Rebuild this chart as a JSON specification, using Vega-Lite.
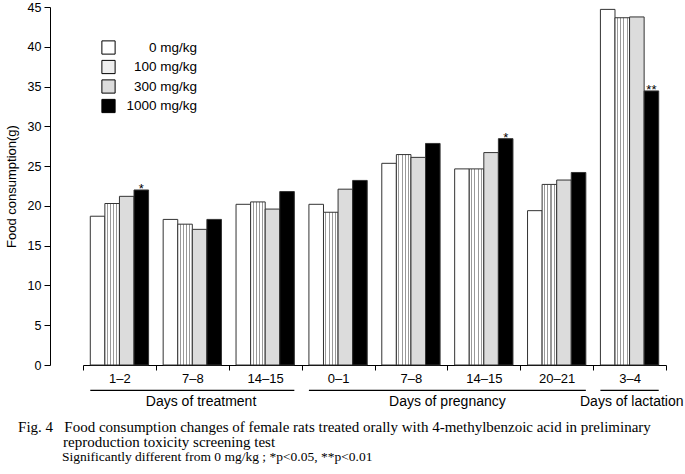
{
  "$schema": "https://vega.github.io/schema/vega-lite/v6.json",
  "width": 583,
  "height": 358,
  "autosize": {"type": "none"},
  "padding": {"left": 83, "top": 7, "right": 19, "bottom": 109},
  "background": "white",
  "config": {
    "view": {"stroke": null},
    "font": "Liberation Sans",
    "text": {"font": "Liberation Sans", "color": "black"},
    "axisY": {
      "grid": false,
      "offset": 33,
      "tickSize": 6,
      "labelPadding": 3,
      "labelFontSize": 12.5,
      "labelFont": "Liberation Sans",
      "labelColor": "black",
      "labelOverlap": false,
      "titleFont": "Liberation Sans",
      "titleFontSize": 13,
      "titleFontWeight": "normal",
      "titleColor": "black",
      "titlePadding": 9,
      "domainColor": "black",
      "tickColor": "black"
    }
  },
  "datasets": {
    "bars": [
      {"group": "treatment|1–2", "dose": "0 mg/kg", "value": 18.7, "sig": ""},
      {"group": "treatment|1–2", "dose": "100 mg/kg", "value": 20.3, "sig": ""},
      {"group": "treatment|1–2", "dose": "300 mg/kg", "value": 21.2, "sig": ""},
      {"group": "treatment|1–2", "dose": "1000 mg/kg", "value": 22.0, "sig": "*"},
      {"group": "treatment|7–8", "dose": "0 mg/kg", "value": 18.3, "sig": ""},
      {"group": "treatment|7–8", "dose": "100 mg/kg", "value": 17.7, "sig": ""},
      {"group": "treatment|7–8", "dose": "300 mg/kg", "value": 17.05, "sig": ""},
      {"group": "treatment|7–8", "dose": "1000 mg/kg", "value": 18.3, "sig": ""},
      {"group": "treatment|14–15", "dose": "0 mg/kg", "value": 20.2, "sig": ""},
      {"group": "treatment|14–15", "dose": "100 mg/kg", "value": 20.5, "sig": ""},
      {"group": "treatment|14–15", "dose": "300 mg/kg", "value": 19.6, "sig": ""},
      {"group": "treatment|14–15", "dose": "1000 mg/kg", "value": 21.8, "sig": ""},
      {"group": "pregnancy|0–1", "dose": "0 mg/kg", "value": 20.2, "sig": ""},
      {"group": "pregnancy|0–1", "dose": "100 mg/kg", "value": 19.2, "sig": ""},
      {"group": "pregnancy|0–1", "dose": "300 mg/kg", "value": 22.1, "sig": ""},
      {"group": "pregnancy|0–1", "dose": "1000 mg/kg", "value": 23.2, "sig": ""},
      {"group": "pregnancy|7–8", "dose": "0 mg/kg", "value": 25.35, "sig": ""},
      {"group": "pregnancy|7–8", "dose": "100 mg/kg", "value": 26.45, "sig": ""},
      {"group": "pregnancy|7–8", "dose": "300 mg/kg", "value": 26.1, "sig": ""},
      {"group": "pregnancy|7–8", "dose": "1000 mg/kg", "value": 27.85, "sig": ""},
      {"group": "pregnancy|14–15", "dose": "0 mg/kg", "value": 24.65, "sig": ""},
      {"group": "pregnancy|14–15", "dose": "100 mg/kg", "value": 24.65, "sig": ""},
      {"group": "pregnancy|14–15", "dose": "300 mg/kg", "value": 26.7, "sig": ""},
      {"group": "pregnancy|14–15", "dose": "1000 mg/kg", "value": 28.45, "sig": "*"},
      {"group": "pregnancy|20–21", "dose": "0 mg/kg", "value": 19.4, "sig": ""},
      {"group": "pregnancy|20–21", "dose": "100 mg/kg", "value": 22.7, "sig": ""},
      {"group": "pregnancy|20–21", "dose": "300 mg/kg", "value": 23.25, "sig": ""},
      {"group": "pregnancy|20–21", "dose": "1000 mg/kg", "value": 24.2, "sig": ""},
      {"group": "lactation|3–4", "dose": "0 mg/kg", "value": 44.7, "sig": ""},
      {"group": "lactation|3–4", "dose": "100 mg/kg", "value": 43.65, "sig": ""},
      {"group": "lactation|3–4", "dose": "300 mg/kg", "value": 43.75, "sig": ""},
      {"group": "lactation|3–4", "dose": "1000 mg/kg", "value": 34.45, "sig": "**"}
    ],
    "periods": [
      {"period": "Days of treatment", "first": "treatment|1–2", "last": "treatment|14–15", "anchor": "treatment|7–8"},
      {"period": "Days of pregnancy", "first": "pregnancy|0–1", "last": "pregnancy|20–21", "anchor": "pregnancy|14–15"},
      {"period": "Days of lactation", "first": "lactation|3–4", "last": "lactation|3–4", "anchor": "lactation|3–4"}
    ]
  },
  "title": {
    "text": [
      "Fig. 4\u00a0\u00a0\u00a0Food consumption changes of female rats treated orally with 4-methylbenzoic acid in preliminary",
      "\u200b\u00a0\u00a0\u00a0\u00a0\u00a0\u00a0\u00a0\u00a0\u00a0\u00a0\u00a0\u00a0reproduction toxicity screening test"
    ],
    "subtitle": "\u200b\u00a0\u00a0\u00a0\u00a0\u00a0\u00a0\u00a0\u00a0\u00a0\u00a0\u00a0\u00a0\u00a0Significantly different from 0 mg/kg ; *p<0.05, **p<0.01",
    "orient": "bottom",
    "anchor": "start",
    "font": "Liberation Serif",
    "fontSize": 15,
    "fontWeight": "normal",
    "lineHeight": 14.5,
    "color": "black",
    "subtitleFont": "Liberation Serif",
    "subtitleFontSize": 13.5,
    "subtitleColor": "black",
    "subtitlePadding": 0,
    "offset": 11,
    "dx": 13
  },
  "layer": [
    {
      "data": {"name": "bars"},
      "mark": {"type": "bar", "stroke": "#333333", "strokeWidth": 1},
      "encoding": {
        "x": {
          "field": "group",
          "type": "nominal",
          "title": null,
          "scale": {
            "domain": ["treatment|1–2", "treatment|7–8", "treatment|14–15", "pregnancy|0–1", "pregnancy|7–8", "pregnancy|14–15", "pregnancy|20–21", "lactation|3–4"],
            "paddingInner": 0,
            "paddingOuter": 0
          },
          "axis": {
            "title": null,
            "labelExpr": "split(datum.label, '|')[1]",
            "labelAngle": 0,
            "tickBand": "extent",
            "tickSize": 5,
            "labelPadding": 2,
            "labelFontSize": 13,
            "labelFont": "Liberation Sans",
            "labelColor": "black",
            "domainColor": "black",
            "tickColor": "black"
          }
        },
        "xOffset": {
          "field": "dose",
          "type": "nominal",
          "scale": {"domain": ["0 mg/kg", "100 mg/kg", "300 mg/kg", "1000 mg/kg"], "paddingInner": 0, "paddingOuter": 0.5}
        },
        "y": {
          "field": "value",
          "type": "quantitative",
          "title": "Food consumption(g)",
          "scale": {"domain": [0, 45], "nice": false},
          "axis": {"title": "Food consumption(g)", "values": [0, 5, 10, 15, 20, 25, 30, 35, 40, 45]}
        },
        "fill": {
          "condition": {
            "test": "datum.dose === '100 mg/kg'",
            "value": {"gradient": "linear", "x1": 0, "y1": 0, "x2": 1, "y2": 0, "stops": [
              {"offset": 0, "color": "#ffffff"}, {"offset": 0.135, "color": "#ffffff"},
              {"offset": 0.135, "color": "#999999"}, {"offset": 0.205, "color": "#999999"},
              {"offset": 0.205, "color": "#ffffff"}, {"offset": 0.355, "color": "#ffffff"},
              {"offset": 0.355, "color": "#999999"}, {"offset": 0.425, "color": "#999999"},
              {"offset": 0.425, "color": "#ffffff"}, {"offset": 0.575, "color": "#ffffff"},
              {"offset": 0.575, "color": "#999999"}, {"offset": 0.645, "color": "#999999"},
              {"offset": 0.645, "color": "#ffffff"}, {"offset": 0.795, "color": "#ffffff"},
              {"offset": 0.795, "color": "#999999"}, {"offset": 0.865, "color": "#999999"},
              {"offset": 0.865, "color": "#ffffff"}, {"offset": 1, "color": "#ffffff"}
            ]}
          },
          "field": "dose",
          "type": "nominal",
          "scale": {
            "domain": ["0 mg/kg", "100 mg/kg", "300 mg/kg", "1000 mg/kg"],
            "range": ["#ffffff", "#eeeeee", "#dcdcdc", "#000000"]
          },
          "legend": {
            "title": null,
            "orient": "none",
            "legendX": 18,
            "legendY": 33,
            "padding": 0,
            "symbolType": "square",
            "symbolSize": 175,
            "symbolStrokeColor": "black",
            "symbolStrokeWidth": 1,
            "labelFont": "Liberation Sans",
            "labelFontSize": 13.5,
            "labelColor": "black",
            "labelAlign": "right",
            "labelOffset": 81,
            "labelLimit": 200,
            "rowPadding": 0.5
          }
        }
      }
    },
    {
      "data": {"name": "bars"},
      "transform": [{"filter": "datum.sig != ''"}],
      "mark": {"type": "text", "baseline": "alphabetic", "dy": 3, "fontSize": 13},
      "encoding": {
        "x": {"field": "group", "type": "nominal", "title": null},
        "xOffset": {"field": "dose", "type": "nominal"},
        "y": {"field": "value", "type": "quantitative", "title": "Food consumption(g)", "axis": {"title": "Food consumption(g)", "values": [0, 5, 10, 15, 20, 25, 30, 35, 40, 45]}},
        "text": {"field": "sig"}
      }
    },
    {
      "data": {"name": "periods"},
      "mark": {"type": "rule", "strokeWidth": 1.3, "color": "black"},
      "encoding": {
        "x": {"field": "first", "type": "nominal", "bandPosition": 0.1, "title": null},
        "x2": {"field": "last", "bandPosition": 0.9},
        "y": {"datum": -3.2, "type": "quantitative", "title": "Food consumption(g)", "axis": {"title": "Food consumption(g)", "values": [0, 5, 10, 15, 20, 25, 30, 35, 40, 45]}}
      }
    },
    {
      "data": {"name": "periods"},
      "transform": [{"filter": "datum.period === 'Days of treatment'"}],
      "mark": {"type": "text", "fontSize": 14, "baseline": "middle"},
      "encoding": {
        "x": {"field": "anchor", "type": "nominal", "bandPosition": 0.62, "title": null},
        "y": {"datum": -4.7, "type": "quantitative", "title": "Food consumption(g)", "axis": {"title": "Food consumption(g)", "values": [0, 5, 10, 15, 20, 25, 30, 35, 40, 45]}},
        "text": {"field": "period"}
      }
    },
    {
      "data": {"name": "periods"},
      "transform": [{"filter": "datum.period === 'Days of pregnancy'"}],
      "mark": {"type": "text", "fontSize": 14, "baseline": "middle"},
      "encoding": {
        "x": {"field": "anchor", "type": "nominal", "bandPosition": 0, "title": null},
        "y": {"datum": -4.7, "type": "quantitative", "title": "Food consumption(g)", "axis": {"title": "Food consumption(g)", "values": [0, 5, 10, 15, 20, 25, 30, 35, 40, 45]}},
        "text": {"field": "period"}
      }
    },
    {
      "data": {"name": "periods"},
      "transform": [{"filter": "datum.period === 'Days of lactation'"}],
      "mark": {"type": "text", "fontSize": 14, "baseline": "middle"},
      "encoding": {
        "x": {"field": "anchor", "type": "nominal", "bandPosition": 0.53, "title": null},
        "y": {"datum": -4.7, "type": "quantitative", "title": "Food consumption(g)", "axis": {"title": "Food consumption(g)", "values": [0, 5, 10, 15, 20, 25, 30, 35, 40, 45]}},
        "text": {"field": "period"}
      }
    }
  ]
}
